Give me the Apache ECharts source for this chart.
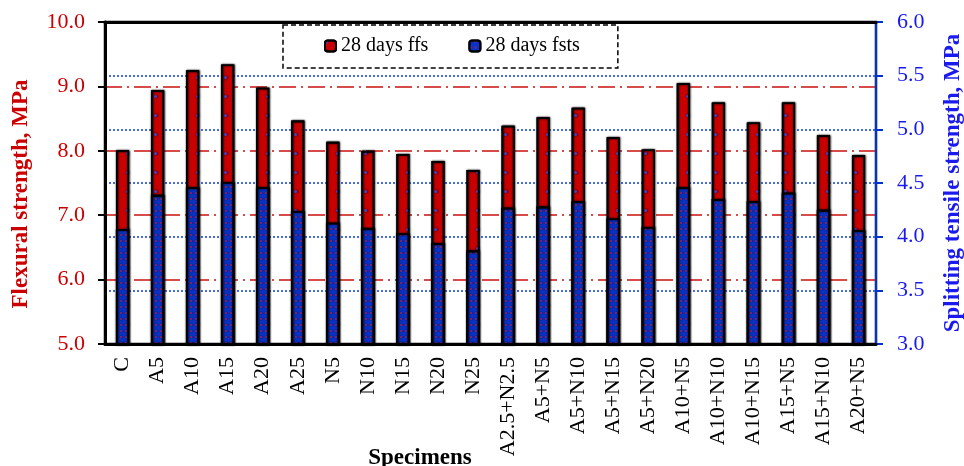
<!DOCTYPE html>
<html>
<head>
<meta charset="utf-8">
<script src="https://cdn.jsdelivr.net/npm/echarts@6/dist/echarts.min.js"></script>
<style>html,body{margin:0;padding:0;background:#fff}#c{width:964px;height:466px}</style>
</head>
<body>
<div id="c"></div>
<script>
var categories = ['C','A5','A10','A15','A20','A25','N5','N10','N15','N20','N25','A2.5+N2.5','A5+N5','A5+N10','A5+N15','A5+N20','A10+N5','A10+N10','A10+N15','A15+N5','A15+N10','A20+N5'];
var ffs = [8.01,8.94,9.25,9.34,8.98,8.47,8.14,8.00,7.95,7.84,7.70,8.39,8.52,8.67,8.21,8.02,9.05,8.75,8.44,8.75,8.24,7.93];
var fsts = [4.07,4.39,4.46,4.51,4.46,4.24,4.13,4.08,4.03,3.94,3.87,4.27,4.28,4.33,4.17,4.09,4.46,4.35,4.33,4.41,4.25,4.06];
var seriesNames = ['28 days ffs','28 days fsts'];
var leftTicks = {min:5, max:10, interval:1};
var rightTicks = {min:3, max:6, interval:0.5};

var serif = '"Liberation Serif","DejaVu Serif",serif';
var RED = '#c80000', BLUE = '#0a32c8';
var chart = echarts.init(document.getElementById('c'), null, {renderer:'canvas'});
var barStyleCommon = {borderColor:'#000', borderWidth:1.6, shadowColor:'rgba(0,0,0,0.45)', shadowBlur:2, shadowOffsetX:0.5, shadowOffsetY:0};
chart.setOption({
  animation:false,
  backgroundColor:'#fff',
  grid:{left:105, right:88, top:22, bottom:122, outerBoundsMode:'none', containLabel:false, show:true, borderColor:'#000', borderWidth:2.5, backgroundColor:'transparent'},
  legend:{
    left:283, top:25, itemWidth:11, itemHeight:11, itemGap:40,
    padding:[11,38,12,41],
    borderColor:'#000', borderWidth:1.5, borderType:[5,3],
    textStyle:{fontFamily:serif, fontSize:20, color:'#000'},
    data:seriesNames
  },
  xAxis:[{
    type:'category', data:categories, position:'bottom', z:3,
    axisLine:{lineStyle:{color:'#000', width:3}},
    axisTick:{show:false},
    axisLabel:{rotate:90, interval:0, margin:13, color:'#000', fontFamily:serif, fontSize:22},
    name:'Specimens', nameLocation:'middle', nameGap:103, nameMoveOverlap:false,
    nameTextStyle:{fontFamily:serif, fontSize:23, fontWeight:'bold', color:'#000', padding:[0,141,0,0]}
  },{
    type:'category', data:categories, position:'top', z:3,
    axisLine:{lineStyle:{color:'#000', width:3}},
    axisTick:{show:false}, axisLabel:{show:false}, splitLine:{show:false}
  }],
  yAxis:[{
    type:'value', min:leftTicks.min, max:leftTicks.max, interval:leftTicks.interval, position:'left',
    axisLine:{show:true, lineStyle:{color:'#000', width:3}},
    axisTick:{show:true, length:7, lineStyle:{color:'#000', width:2}},
    axisLabel:{color:'#cc0000', fontFamily:serif, fontSize:22, margin:20, formatter:function(v){return v.toFixed(1);}},
    splitLine:{show:true, lineStyle:{color:'#cc1111', width:1.6, type:[17,5,2,5]}},
    name:'Flexural strength, MPa', nameLocation:'middle', nameGap:72, nameRotate:90, nameMoveOverlap:false,
    nameTextStyle:{color:'#cc0000', fontFamily:serif, fontSize:23, fontWeight:'bold', padding:[0,22,0,0]}
  },{
    type:'value', min:rightTicks.min, max:rightTicks.max, interval:rightTicks.interval, position:'right',
    axisLine:{show:true, lineStyle:{color:'#0033cc', width:2}},
    axisTick:{show:true, length:7, lineStyle:{color:'#0033cc', width:2}},
    axisLabel:{color:'#1a1aee', fontFamily:serif, fontSize:22, margin:21, formatter:function(v){return v.toFixed(1);}},
    splitLine:{show:true, lineStyle:{color:'#1f48e0', width:1.6, type:[2,2]}},
    name:'Splitting tensile strength, MPa', nameLocation:'middle', nameGap:66, nameRotate:90, nameMoveOverlap:false,
    nameTextStyle:{color:'#1a1aee', fontFamily:serif, fontSize:23, fontWeight:'bold'}
  }],
  series:[{
    name:seriesNames[0], type:'bar', yAxisIndex:0, data:ffs, barWidth:13, barGap:'-100%',
    itemStyle:Object.assign({color:RED, decal:{symbol:'circle', symbolSize:1, color:'rgba(70,70,220,0.95)', dashArrayX:[2.5,11], dashArrayY:[2.5,16]}}, barStyleCommon)
  },{
    name:seriesNames[1], type:'bar', yAxisIndex:1, data:fsts, barWidth:13, barGap:'-100%',
    itemStyle:Object.assign({color:BLUE, decal:{symbol:'circle', symbolSize:1, color:'rgba(190,30,80,0.85)', dashArrayX:[1.6,3], dashArrayY:[1.6,3.4]}}, barStyleCommon)
  }]
});
</script>
</body>
</html>
